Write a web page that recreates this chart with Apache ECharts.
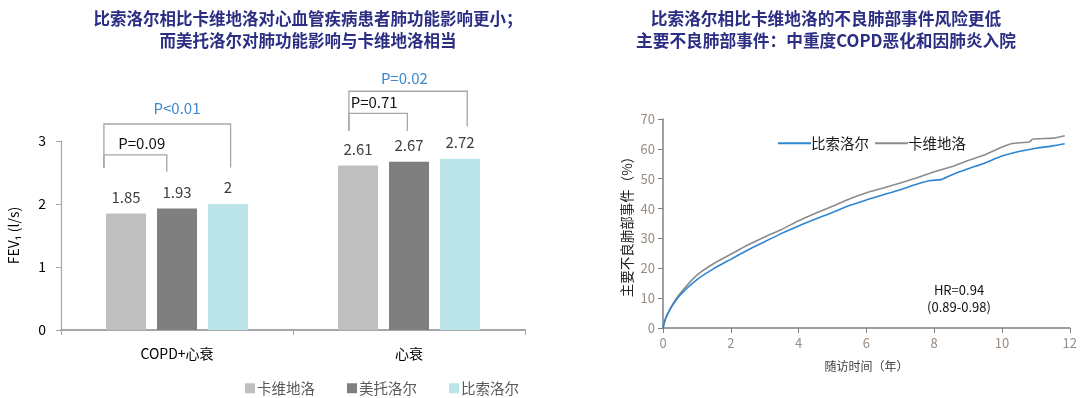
<!DOCTYPE html>
<html>
<head>
<meta charset="utf-8">
<script src="https://cdn.jsdelivr.net/npm/echarts@6/dist/echarts.min.js"></script>
<style>
  html, body { margin: 0; padding: 0; background: #fff; }
  #chart { width: 1080px; height: 398px; }
</style>
</head>
<body>
<div id="chart"></div>
<script>
// left: FEV1 by group
const groups = ['COPD+心衰', '心衰'];
const drugs = ['卡维地洛', '美托洛尔', '比索洛尔'];
const fevCarvedilol = [1.85, 2.61];
const fevMetoprolol = [1.93, 2.67];
const fevBisoprolol = [2.0, 2.72];

// p-value brackets: [group, leftOffset, rightOffset, topY, leftEndY, rightEndY] (offsets in band widths)
const brackets = [
  [0, -0.315, 0.231, 3.27, 2.57, 2.58],
  [0, -0.315, -0.044, 2.78, 2.57, 2.51],
  [1, -0.259, 0.251, 3.79, 3.16, 3.23],
  [1, -0.259, -0.007, 3.44, 3.16, 3.16],
];
// [group, offset, y, text, highlight]
const pLabels = [
  [0, 0.0, 3.52, 'P<0.01', 1],
  [0, -0.152, 2.97, 'P=0.09', 0],
  [1, -0.02, 4.0, 'P=0.02', 1],
  [1, -0.15, 3.61, 'P=0.71', 0],
];

// right: cumulative incidence of major adverse lung events
const years = [0, 0.05, 0.1, 0.25, 0.5, 1, 1.5, 2, 2.5, 3, 3.5, 4, 4.5, 5, 5.5, 6, 6.5, 7, 7.5, 7.9, 8.2, 8.5, 9, 9.5, 10, 10.5, 11, 11.5, 11.85];
const bisoprolol = [0, 2.2, 3.7, 7.0, 11.0, 16.2, 19.9, 23.0, 26.1, 28.9, 31.7, 34.2, 36.5, 38.7, 41.0, 42.9, 44.6, 46.3, 48.2, 49.4, 49.7, 51.2, 53.3, 55.3, 57.6, 59.1, 60.2, 61.0, 61.7];
const yearsCarv = [0, 0.05, 0.1, 0.25, 0.5, 1, 1.5, 2, 2.5, 3, 3.5, 4, 4.5, 5, 5.5, 6, 6.5, 7, 7.5, 8, 8.5, 9, 9.5, 10, 10.3, 10.8, 10.9, 11.5, 11.85];
const carvedilol = [0, 2.4, 3.9, 7.3, 11.5, 17.7, 21.6, 24.7, 27.8, 30.5, 33.0, 35.9, 38.4, 40.8, 43.2, 45.3, 46.9, 48.6, 50.3, 52.3, 54.0, 56.1, 58.0, 60.6, 61.8, 62.3, 63.2, 63.6, 64.4];
const lineNames = ['比索洛尔', '卡维地洛'];

const FONT = "'Noto Sans CJK SC', 'Noto Sans', sans-serif";
const chart = echarts.init(document.getElementById('chart'));

const barLabel = {
  show: true,
  position: 'top',
  distance: 9,
  fontSize: 15,
  color: '#404040',
};

const option = {
  animation: false,
  textStyle: { fontFamily: FONT },
  title: [
    {
      text: '比索洛尔相比卡维地洛对心血管疾病患者肺功能影响更小；\n而美托洛尔对肺功能影响与卡维地洛相当',
      left: 303,
      top: 3,
      textAlign: 'center',
      textStyle: { fontSize: 16.5, fontWeight: 'bold', color: '#2B2E83', lineHeight: 22, fontFamily: FONT },
    },
    {
      text: '比索洛尔相比卡维地洛的不良肺部事件风险更低\n主要不良肺部事件：中重度COPD恶化和因肺炎入院',
      left: 821,
      top: 3,
      textAlign: 'center',
      textStyle: { fontSize: 16.7, fontWeight: 'bold', color: '#2B2E83', lineHeight: 22, fontFamily: FONT },
    },
  ],
  legend: [
    {
      data: drugs,
      left: 240,
      top: 376,
      icon: 'rect',
      itemWidth: 10,
      itemHeight: 10,
      itemGap: 32,
      textStyle: { fontSize: 14.5, color: '#595959', padding: [0, 0, 0, -3] },
    },
    {
      data: lineNames.map((n) => n + '-KM'),
      formatter: (name) => name.replace('-KM', ''),
      left: 773,
      top: 131,
      icon: 'rect',
      itemWidth: 33,
      itemHeight: 2,
      itemGap: 6,
      textStyle: { fontSize: 14.5, color: '#1a1a1a', padding: [0, 0, 0, -5] },
    },
  ],
  grid: [
    { left: 61, right: 555, top: 141, bottom: 68 },
    { left: 663, right: 10, top: 119, bottom: 70 },
  ],
  xAxis: [
    {
      gridIndex: 0,
      type: 'category',
      data: groups,
      axisLine: { lineStyle: { color: '#A6A6A6', width: 2 } },
      axisTick: { show: true, length: 5, lineStyle: { color: '#A6A6A6' } },
      axisLabel: { fontSize: 14, color: '#000', margin: 17 },
    },
    {
      gridIndex: 1,
      type: 'value',
      min: 0,
      max: 12,
      interval: 2,
      name: '随访时间（年）',
      nameLocation: 'middle',
      nameGap: 32,
      nameTextStyle: { fontSize: 12, color: '#404040' },
      splitLine: { show: false },
      axisLine: { lineStyle: { color: '#808080', width: 1.5 } },
      axisTick: { show: true, length: 5, lineStyle: { color: '#808080' } },
      axisLabel: { fontSize: 13, color: '#9A8C80', margin: 9 },
    },
  ],
  yAxis: [
    {
      gridIndex: 0,
      type: 'value',
      min: 0,
      max: 3,
      interval: 1,
      name: 'FEV₁ (l/s)',
      nameLocation: 'middle',
      nameGap: 40,
      nameTextStyle: { fontSize: 14, color: '#000' },
      splitLine: { show: false },
      axisLine: { show: true, lineStyle: { color: '#A6A6A6', width: 1.2 } },
      axisTick: { show: true, length: 5, lineStyle: { color: '#A6A6A6' } },
      axisLabel: { fontSize: 14, color: '#000', margin: 15 },
    },
    {
      gridIndex: 1,
      type: 'value',
      min: 0,
      max: 70,
      interval: 10,
      name: '主要不良肺部事件（%）',
      nameLocation: 'middle',
      nameGap: 29,
      nameTextStyle: { fontSize: 13.5, color: '#222' },
      splitLine: { show: false },
      axisLine: { show: true, lineStyle: { color: '#808080', width: 1.5 } },
      axisTick: { show: true, length: 5, lineStyle: { color: '#808080' } },
      axisLabel: { fontSize: 13, color: '#9A8C80', margin: 8 },
    },
  ],
  graphic: [
    {
      type: 'text',
      x: 959,
      y: 282,
      style: {
        text: 'HR=0.94\n(0.89-0.98)',
        align: 'center',
        fontSize: 13,
        lineHeight: 17,
        fill: '#111',
        fontFamily: FONT,
      },
    },
  ],
  series: [
    {
      name: drugs[0],
      type: 'bar',
      xAxisIndex: 0,
      yAxisIndex: 0,
      data: fevCarvedilol,
      barWidth: 40,
      barGap: '27.5%',
      itemStyle: { color: '#BFBFBF' },
      label: barLabel,
    },
    {
      name: drugs[1],
      type: 'bar',
      xAxisIndex: 0,
      yAxisIndex: 0,
      data: fevMetoprolol,
      barWidth: 40,
      barGap: '27.5%',
      itemStyle: { color: '#7F7F7F' },
      label: barLabel,
    },
    {
      name: drugs[2],
      type: 'bar',
      xAxisIndex: 0,
      yAxisIndex: 0,
      data: fevBisoprolol,
      barWidth: 40,
      barGap: '27.5%',
      itemStyle: { color: '#BCE5EA' },
      label: barLabel,
    },
    {
      type: 'custom',
      xAxisIndex: 0,
      yAxisIndex: 0,
      silent: true,
      clip: false,
      data: brackets,
      renderItem: (params, api) => {
        const c = api.coord([api.value(0), 0]);
        const bw = api.size([1, 0])[0];
        const xl = c[0] + api.value(1) * bw;
        const xr = c[0] + api.value(2) * bw;
        const yt = api.coord([0, api.value(3)])[1];
        const yl = api.coord([0, api.value(4)])[1];
        const yr = api.coord([0, api.value(5)])[1];
        return {
          type: 'polyline',
          shape: { points: [[xl, yl], [xl, yt], [xr, yt], [xr, yr]] },
          style: { stroke: '#A6A6A6', lineWidth: 1.3, fill: null },
        };
      },
    },
    {
      type: 'custom',
      xAxisIndex: 0,
      yAxisIndex: 0,
      silent: true,
      clip: false,
      data: pLabels,
      renderItem: (params, api) => {
        const item = pLabels[params.dataIndex];
        const c = api.coord([item[0], item[2]]);
        const bw = api.size([1, 0])[0];
        return {
          type: 'text',
          x: c[0] + item[1] * bw,
          y: c[1],
          style: {
            text: item[3],
            align: 'center',
            verticalAlign: 'middle',
            fontSize: 15,
            fill: item[4] ? '#3D87CB' : '#111',
            fontFamily: FONT,
          },
        };
      },
    },
    {
      name: lineNames[0] + '-KM',
      type: 'line',
      xAxisIndex: 1,
      yAxisIndex: 1,
      symbol: 'none',
      smooth: 0.2,
      data: years.map((x, i) => [x, bisoprolol[i]]),
      itemStyle: { color: '#2E86D1' },
      lineStyle: { color: '#2E86D1', width: 1.6 },
      z: 3,
    },
    {
      name: lineNames[1] + '-KM',
      type: 'line',
      xAxisIndex: 1,
      yAxisIndex: 1,
      symbol: 'none',
      smooth: 0.2,
      data: yearsCarv.map((x, i) => [x, carvedilol[i]]),
      itemStyle: { color: '#8C8C8C' },
      lineStyle: { color: '#8C8C8C', width: 1.6 },
      z: 2,
    },
  ],
};

chart.setOption(option);
</script>
</body>
</html>
